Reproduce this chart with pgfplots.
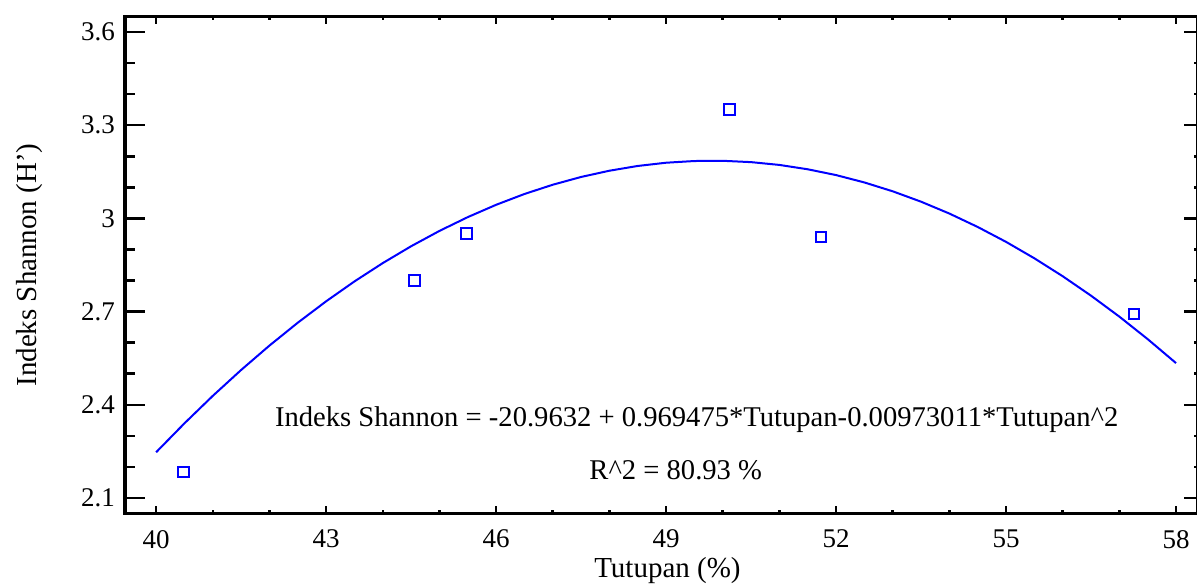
\documentclass[border=0pt]{standalone}
\usepackage{fontspec}
\setmainfont{Liberation Serif}
\usepackage{pgfplots}
\pgfplotsset{compat=1.18}

\begin{document}
\begin{tikzpicture}
  \begin{axis}[
      name=main,
      scale only axis,
      width=536pt, height=248pt,
      xmin=39.45, xmax=58.37,
      ymin=2.052, ymax=3.648,
      xtick={40,43,...,58},
      ytick={2.1,2.4,...,3.61},
      minor x tick num=2,
      minor y tick num=2,
      tick align=inside,
      xtick pos=both,
      ytick pos=left,
      axis line style={line width=1.5pt},
      every tick/.style={black, line width=1.3pt},
      xtick style={/pgfplots/major tick length=3.5pt, /pgfplots/minor tick length=1.6pt},
      ytick style={/pgfplots/major tick length=10pt, /pgfplots/minor tick length=5pt},
      /pgf/number format/assume math mode=true,
      /pgf/number format/fixed,
      /pgf/number format/precision=1,
      yticklabel style={font=\fontsize{13.5}{15}\selectfont, xshift=-1.5pt},
      xticklabel style={font=\fontsize{13.5}{15}\selectfont, yshift=-5pt},
      xlabel={Tutupan (\%)},
      ylabel={Indeks Shannon (H')},
      label style={font=\fontsize{14.5}{17}\selectfont},
      xlabel style={at={(axis description cs:0.506,-0.115)}, anchor=center},
      ylabel style={at={(axis description cs:-0.0886,0.5)}, anchor=center},
      clip=false,
    ]
    % fitted curve
    \addplot[blue, line width=1pt, no marks] coordinates {
      (40,2.2476) (40.5,2.3407) (41,2.4290) (41.5,2.5123) (42,2.5908)
      (42.5,2.6644) (43,2.7332) (43.5,2.7972) (44,2.8562) (44.5,2.9104)
      (45,2.9597) (45.5,3.0041) (46,3.0437) (46.5,3.0785) (47,3.1083)
      (47.5,3.1333) (48,3.1534) (48.5,3.1687) (49,3.1791) (49.5,3.1846)
      (50,3.1853) (50.5,3.1810) (51,3.1720) (51.5,3.1580) (52,3.1393)
      (52.5,3.1156) (53,3.0871) (53.5,3.0537) (54,3.0155) (54.5,2.9723)
      (55,2.9244) (55.5,2.8715) (56,2.8138) (56.5,2.7512) (57,2.6838)
      (57.5,2.6114) (58,2.5343)
    };
    % observed values
    \addplot[only marks, blue, mark=square, mark size=2.6pt, mark options={line width=1pt}] coordinates {
      (40.48,2.184) (44.56,2.800) (45.48,2.952) (50.12,3.351) (51.73,2.940) (57.26,2.692)
    };
    \node[font=\fontsize{14.3}{17}\selectfont] at (axis cs:49.54,2.352)
      {Indeks Shannon = -20.9632 + 0.969475*Tutupan-0.00973011*Tutupan\^{}2};
    \node[font=\fontsize{14.3}{17}\selectfont] at (axis cs:49.17,2.19)
      {R\^{}2 = 80.93 \%};
  \end{axis}
  \begin{axis}[
      scale only axis,
      width=536pt, height=248pt,
      xmin=39.45, xmax=58.37,
      ymin=2.052, ymax=3.648,
      xtick=\empty,
      ytick={2.1,2.4,...,3.61},
      minor y tick num=2,
      tick align=inside,
      ytick pos=right,
      yticklabels={},
      axis line style={line width=1.5pt},
      every tick/.style={black, line width=1.3pt},
      ytick style={/pgfplots/major tick length=6.5pt, /pgfplots/minor tick length=1.6pt},
    ]
  \end{axis}
  \pgfresetboundingbox
  \path[use as bounding box] ([shift={(-62.5pt,-35.5pt)}]main.south west)
    rectangle ([shift={(0pt,8.5pt)}]main.north east);
\end{tikzpicture}
\end{document}
